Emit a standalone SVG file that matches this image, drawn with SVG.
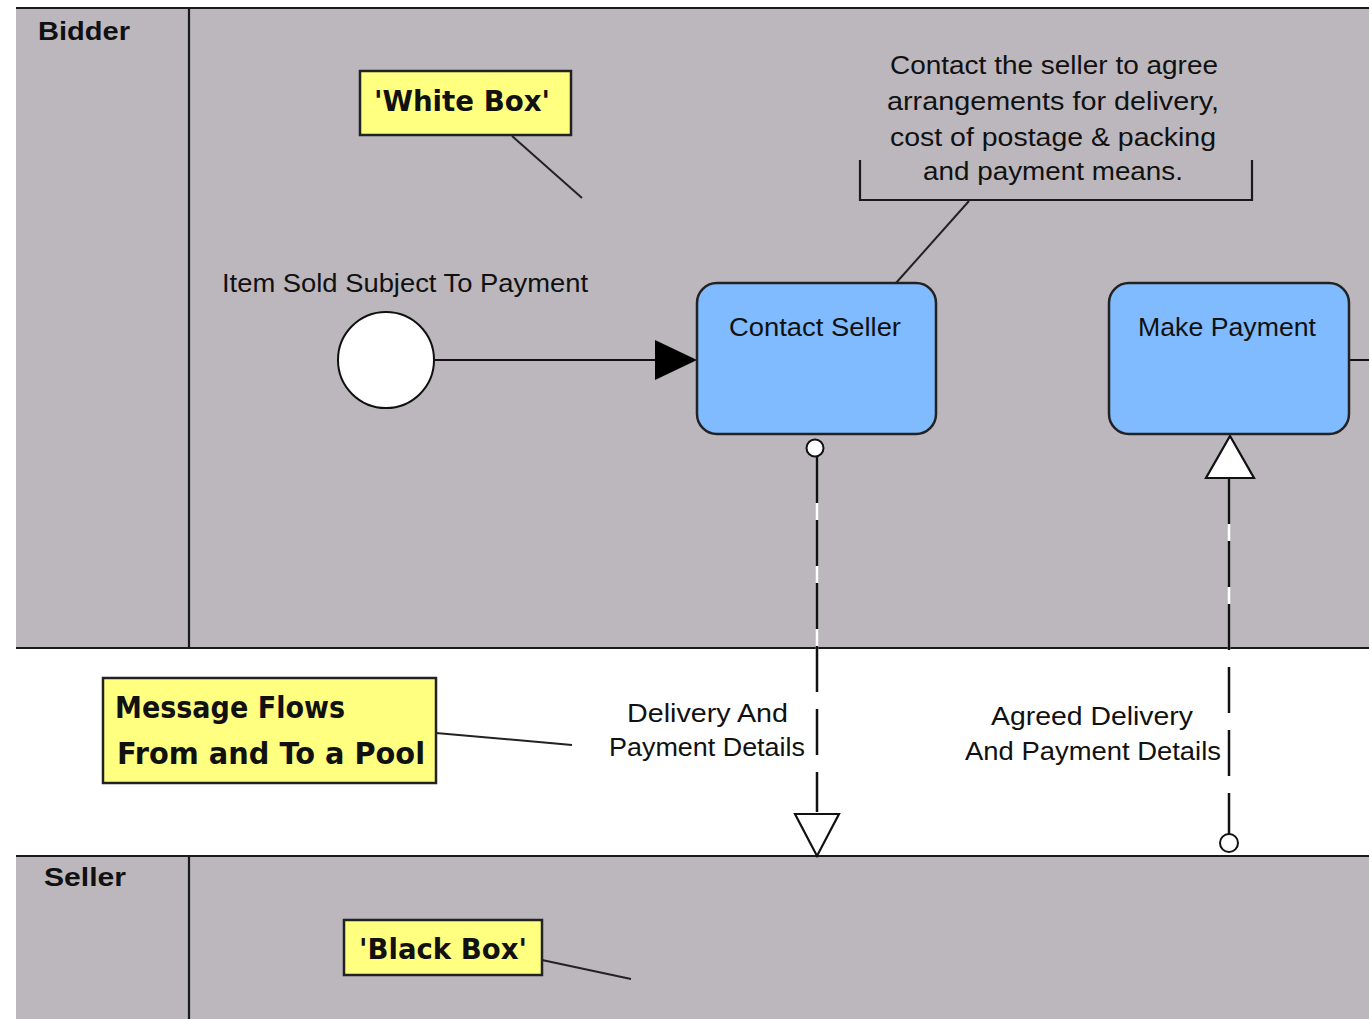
<svg xmlns="http://www.w3.org/2000/svg" width="1369" height="1019" viewBox="0 0 1369 1019">
<style>
.pool{fill:#bbb7bd;stroke:none}
.ln{stroke:#1a1a1a;stroke-width:2.2;fill:none}
.note{fill:#ffff80;stroke:#222;stroke-width:2.5}
.task{fill:#80baff;stroke:#222;stroke-width:2.5}
.t{font-family:"Liberation Sans",Arial,sans-serif;fill:#111;font-size:25px}
.hb{font-family:"Liberation Sans",Arial,sans-serif;font-weight:bold;font-size:26px;fill:#111}
.nt{font-family:"DejaVu Sans",sans-serif;font-weight:bold;fill:#111}
.assoc{stroke:#222;stroke-width:2;fill:none}
</style>
<rect width="1369" height="1019" fill="#ffffff"/>
<g id="pool-bidder">
<rect class="pool" x="16" y="8" width="1353" height="640"/>
<line class="ln" x1="16" y1="8" x2="1369" y2="8"/>
<line class="ln" x1="16" y1="648" x2="1369" y2="648"/>
<line class="ln" x1="189" y1="8" x2="189" y2="648"/>
<text class="hb" x="38" y="40" textLength="92" lengthAdjust="spacingAndGlyphs">Bidder</text>
</g>
<g id="pool-seller">
<rect class="pool" x="16" y="856" width="1353" height="163"/>
<line class="ln" x1="16" y1="856" x2="1369" y2="856"/>
<line class="ln" x1="189" y1="856" x2="189" y2="1019"/>
<text class="hb" x="44" y="886" textLength="82" lengthAdjust="spacingAndGlyphs">Seller</text>
</g>
<g id="connectors">
<line x1="434" y1="360" x2="660" y2="360" stroke="#111" stroke-width="2"/>
<polygon points="655,340 697,360 655,380" fill="#000"/>
<line x1="1349" y1="360" x2="1369" y2="360" stroke="#111" stroke-width="2"/>
<line x1="817" y1="457" x2="817" y2="812" stroke="#fff" stroke-width="2.5"/>
<line x1="817" y1="457" x2="817" y2="812" stroke="#111" stroke-width="2.5" stroke-dasharray="46 17"/>
<circle cx="815" cy="448" r="8.5" fill="#fff" stroke="#111" stroke-width="2"/>
<polygon points="795,814 839,814 817,856" fill="#fff" stroke="#111" stroke-width="2.2"/>
<line x1="1229" y1="478" x2="1229" y2="834" stroke="#fff" stroke-width="2.5"/>
<line x1="1229" y1="478" x2="1229" y2="834" stroke="#111" stroke-width="2.5" stroke-dasharray="46 17"/>
<circle cx="1229" cy="843" r="9" fill="#fff" stroke="#111" stroke-width="2"/>
<polygon points="1206,478 1254,478 1230,436" fill="#fff" stroke="#111" stroke-width="2.2"/>
<line class="assoc" x1="512" y1="136" x2="582" y2="198"/>
<line class="assoc" x1="969" y1="201" x2="896" y2="283"/>
<line class="assoc" x1="436" y1="733" x2="572" y2="745"/>
<line class="assoc" x1="542" y1="960" x2="631" y2="979"/>
<text class="t" x="627" y="722" textLength="161" lengthAdjust="spacingAndGlyphs">Delivery And</text>
<text class="t" x="609" y="756" textLength="196" lengthAdjust="spacingAndGlyphs">Payment Details</text>
<text class="t" x="991" y="725" textLength="202" lengthAdjust="spacingAndGlyphs">Agreed Delivery</text>
<text class="t" x="965" y="760" textLength="256" lengthAdjust="spacingAndGlyphs">And Payment Details</text>
</g>
<g id="note-white-box">
<rect class="note" x="360" y="71" width="211" height="64"/>
<text class="nt" font-size="28" x="462" y="111" text-anchor="middle" textLength="176" lengthAdjust="spacingAndGlyphs">'White Box'</text>
</g>
<g id="comment-contact">
<path class="ln" d="M860,160 V200 H1252 V160"/>
<text class="t" x="890" y="74" textLength="328" lengthAdjust="spacingAndGlyphs">Contact the seller to agree</text>
<text class="t" x="887" y="110" textLength="332" lengthAdjust="spacingAndGlyphs">arrangements for delivery,</text>
<text class="t" x="890" y="146" textLength="326" lengthAdjust="spacingAndGlyphs">cost of postage &amp; packing</text>
<text class="t" x="923" y="180" textLength="260" lengthAdjust="spacingAndGlyphs">and payment means.</text>
</g>
<g id="start-event">
<text class="t" x="222" y="292" textLength="366" lengthAdjust="spacingAndGlyphs">Item Sold Subject To Payment</text>
<circle cx="386" cy="360" r="48" fill="#fff" stroke="#111" stroke-width="2"/>
</g>
<g id="task-contact-seller">
<rect class="task" x="697" y="283" width="239" height="151" rx="20"/>
<text class="t" x="729" y="336" textLength="172" lengthAdjust="spacingAndGlyphs">Contact Seller</text>
</g>
<g id="task-make-payment">
<rect class="task" x="1109" y="283" width="240" height="151" rx="20"/>
<text class="t" x="1138" y="336" textLength="178" lengthAdjust="spacingAndGlyphs">Make Payment</text>
</g>
<g id="note-message-flows">
<rect class="note" x="103" y="678" width="333" height="105"/>
<text class="nt" font-size="30" x="115" y="718" textLength="230" lengthAdjust="spacingAndGlyphs">Message Flows</text>
<text class="nt" font-size="30" x="117" y="764" textLength="308" lengthAdjust="spacingAndGlyphs">From and To a Pool</text>
</g>
<g id="note-black-box">
<rect class="note" x="344" y="920" width="198" height="55"/>
<text class="nt" font-size="28" x="443" y="959" text-anchor="middle" textLength="168" lengthAdjust="spacingAndGlyphs">'Black Box'</text>
</g>
</svg>
